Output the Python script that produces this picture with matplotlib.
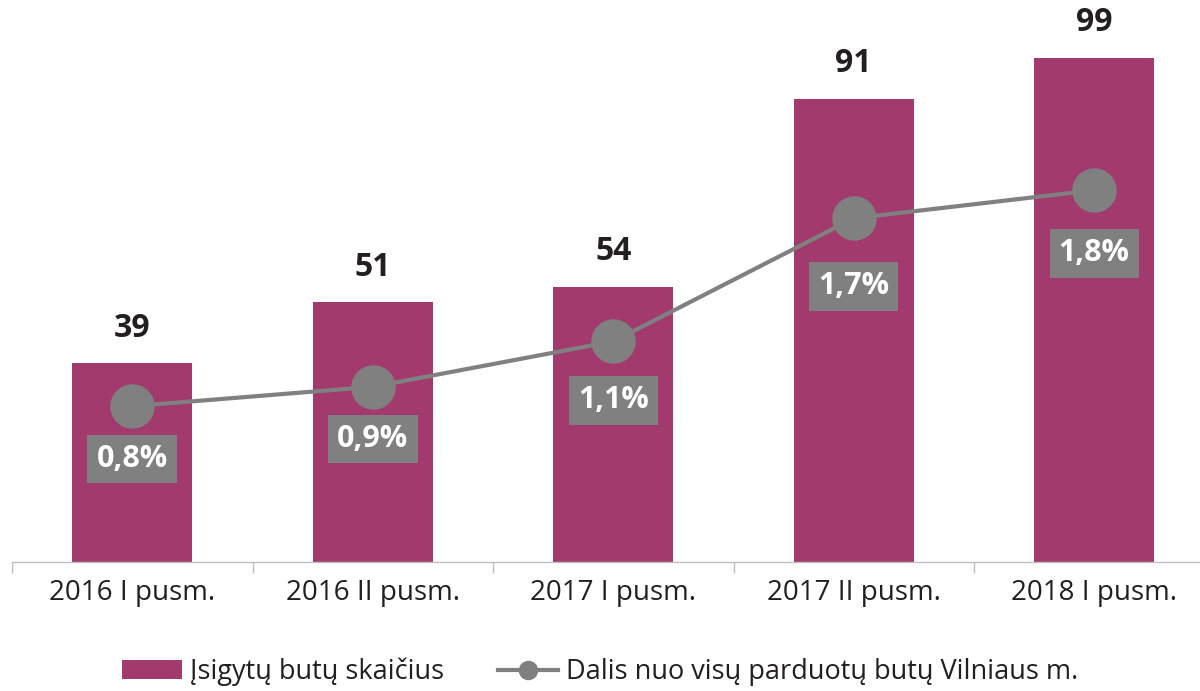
import matplotlib
matplotlib.use('Agg')
import matplotlib.pyplot as plt
from matplotlib.lines import Line2D
from matplotlib.patches import Patch

plt.rcParams['font.family'] = ['Open Sans', 'DejaVu Sans']

categories = ['2016 I pusm.', '2016 II pusm.', '2017 I pusm.', '2017 II pusm.', '2018 I pusm.']
bought = [39, 51, 54, 91, 99]
share = [0.8, 0.89, 1.1, 1.67, 1.8]
share_labels = ['0,8%', '0,9%', '1,1%', '1,7%', '1,8%']

BAR = '#A23A6E'
GRAY = '#808080'
DARK = '#231F20'

W, H = 1200, 691
fig = plt.figure(figsize=(W / 100, H / 100), dpi=100)
ax = fig.add_axes([12 / W, (H - 562) / H, 1188 / W, 562 / H])

x = list(range(len(categories)))
ax.bar(x, bought, width=0.5, color=BAR, zorder=2)
for xi, v in zip(x, bought):
    ax.text(xi, v + 6.9, str(v), ha='center', va='center', fontsize=23,
            fontweight='bold', color=DARK)

# category axis
for s in ['top', 'right', 'left']:
    ax.spines[s].set_visible(False)
ax.spines['bottom'].set_color('#BFBFBF')
ax.spines['bottom'].set_linewidth(1)
ax.set_yticks([])
ax.set_xticks([i - 0.5 for i in range(len(categories) + 1)])
ax.set_xticklabels([])
ax.tick_params(axis='x', which='major', length=8, color='#BFBFBF', width=1)
ax.set_xticks(x, minor=True)
ax.set_xticklabels(categories, minor=True, fontsize=20, color=DARK)
ax.tick_params(axis='x', which='minor', length=0, pad=12)
ax.set_xlim(-0.5, -0.5 + 1188 / 240.5)
ax.set_ylim(0, 110.4)

# share line on secondary axis
ax2 = ax.twinx()
ax2.set_ylim((579 - 562) / 216, 579 / 216)
ax2.axis('off')
ax2.plot(x, share, color=GRAY, lw=3, marker='o', markersize=31, zorder=3)
# label drop below each marker, in points (the original places them unevenly)
drops = [38, 37.5, 42.5, 49, 45.5]
for xi, v, lab, d in zip(x, share, share_labels, drops):
    ax2.annotate(lab, (xi, v), xytext=(0, -d), textcoords='offset points',
                 ha='center', va='center', fontsize=22, fontweight='bold', color='white',
                 bbox=dict(boxstyle='square,pad=0.3', fc=GRAY, ec='none'), zorder=4)
ax2.set_xlim(-0.5, -0.5 + 1188 / 240.5)

handles = [Patch(facecolor=BAR, edgecolor='none', label='Įsigytų butų skaičius'),
           Line2D([0], [0], color=GRAY, lw=3, marker='o', markersize=13,
                  label='Dalis nuo visų parduotų butų Vilniaus m.')]
fig.legend(handles=handles, loc='center', bbox_to_anchor=(0.5, 1 - 672 / H), ncol=2,
           frameon=False, fontsize=19.5, handlelength=2.2, handletextpad=0.3,
           columnspacing=2.0, labelcolor=DARK)

fig.savefig('out.png', dpi=100, facecolor='white')
